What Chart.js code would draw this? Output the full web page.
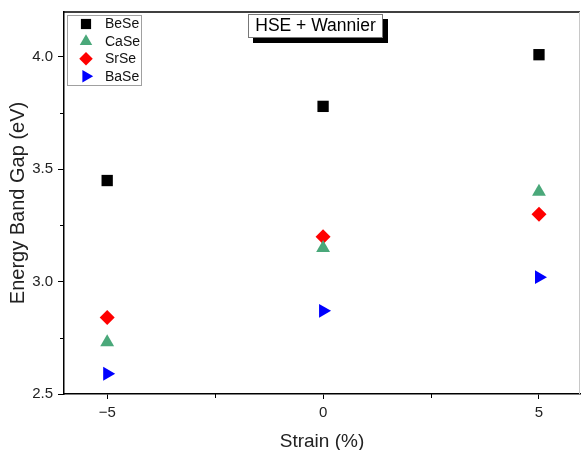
<!DOCTYPE html>
<html>
<head>
<meta charset="utf-8">
<script src="https://cdn.jsdelivr.net/npm/chart.js@4"></script>
<style>
  body { margin: 0; background: #fff; }
  canvas { display: block; }
</style>
</head>
<body>
<canvas id="chart" width="581" height="450"></canvas>
<script>
// data
const strain = [-5, 0, 5];
const beSe = [3.45, 3.78, 4.01];
const caSe = [2.73, 3.15, 3.40];
const srSe = [2.84, 3.20, 3.30];
const baSe = [2.59, 2.87, 3.02];
const xTicks = [-5, 0, 5];
const xMinor = [-2.5, 2.5];
const yTicks = [2.5, 3.0, 3.5, 4.0];
const yMinor = [2.75, 3.25, 3.75];

const FONT = '"Liberation Sans", Arial, sans-serif';

const series = [
  { label: 'BeSe', data: beSe, color: '#000000', style: 'rect', radius: 8, rotation: 0 },
  { label: 'CaSe', data: caSe, color: '#4aa87a', style: 'triangle', radius: 8, rotation: 0 },
  { label: 'SrSe', data: srSe, color: '#ff0000', style: 'rectRot', radius: 7.5, rotation: 0 },
  { label: 'BaSe', data: baSe, color: '#0000ff', style: 'triangle', radius: 8, rotation: 90 }
];

// small marker drawer for the legend box
function marker(ctx, style, x, y, r, rot, color) {
  ctx.save();
  ctx.fillStyle = color;
  ctx.translate(x, y);
  ctx.rotate(rot * Math.PI / 180);
  ctx.beginPath();
  if (style === 'rect') {
    const s = r * Math.SQRT1_2;
    ctx.rect(-s, -s, 2 * s, 2 * s);
  } else if (style === 'rectRot') {
    ctx.moveTo(0, -r); ctx.lineTo(r, 0); ctx.lineTo(0, r); ctx.lineTo(-r, 0);
  } else {
    ctx.moveTo(0, -r);
    ctx.lineTo(r * Math.sin(Math.PI / 3), r / 2);
    ctx.lineTo(-r * Math.sin(Math.PI / 3), r / 2);
  }
  ctx.closePath();
  ctx.fill();
  ctx.restore();
}

const extras = {
  id: 'extras',
  afterDraw(chart) {
    const ctx = chart.ctx;
    const a = chart.chartArea;
    const xs = chart.scales.x, ys = chart.scales.y;
    ctx.save();
    // frame top / right
    ctx.strokeStyle = '#000';
    ctx.lineWidth = 1.5;
    ctx.beginPath();
    ctx.moveTo(a.left, a.top); ctx.lineTo(a.right, a.top);
    ctx.stroke();
    ctx.strokeStyle = '#c8c8c8';
    ctx.lineWidth = 1;
    ctx.beginPath();
    ctx.moveTo(a.right - 0.5, a.top); ctx.lineTo(a.right - 0.5, a.bottom);
    ctx.stroke();
    // minor ticks
    ctx.strokeStyle = '#000';
    ctx.lineWidth = 1;
    xMinor.forEach(v => {
      const px = Math.round(xs.getPixelForValue(v)) + 0.5;
      ctx.beginPath(); ctx.moveTo(px, a.bottom); ctx.lineTo(px, a.bottom + 4); ctx.stroke();
    });
    yMinor.forEach(v => {
      const py = Math.round(ys.getPixelForValue(v)) + 0.5;
      ctx.beginPath(); ctx.moveTo(a.left, py); ctx.lineTo(a.left - 4, py); ctx.stroke();
    });

    // legend box
    ctx.strokeStyle = '#a0a0a0';
    ctx.fillStyle = '#fff';
    ctx.lineWidth = 1;
    ctx.fillRect(67, 15, 74, 70);
    ctx.strokeRect(67.5, 15.5, 74, 70);
    ctx.font = '14px ' + FONT;
    ctx.textBaseline = 'middle';
    ctx.textAlign = 'left';
    series.forEach((s, i) => {
      const y = 24 + i * 17.4;
      marker(ctx, s.style, 86, y, s.radius * 0.9, s.rotation, s.color);
      ctx.fillStyle = '#111';
      ctx.fillText(s.label, 105, y + 0.5);
    });

    // title box with drop shadow
    ctx.fillStyle = '#000';
    ctx.fillRect(253, 19, 135, 24);
    ctx.fillStyle = '#fff';
    ctx.fillRect(248, 14, 135, 24);
    ctx.strokeStyle = '#777';
    ctx.strokeRect(248.5, 14.5, 134, 23);
    ctx.fillStyle = '#000';
    ctx.font = '17.5px ' + FONT;
    ctx.textAlign = 'center';
    ctx.fillText('HSE + Wannier', 315.5, 26.5);
    ctx.restore();
  }
};

new Chart(document.getElementById('chart'), {
  type: 'scatter',
  data: {
    datasets: series.map(s => ({
      label: s.label,
      data: strain.map((x, i) => ({ x: x, y: s.data[i] })),
      pointStyle: s.style,
      pointRadius: s.radius,
      pointHoverRadius: s.radius,
      pointRotation: s.rotation,
      backgroundColor: s.color,
      borderColor: s.color,
      borderWidth: 0
    }))
  },
  options: {
    responsive: false,
    animation: false,
    layout: { autoPadding: false, padding: { left: 0, top: 12, right: 1, bottom: 0 } },
    plugins: { legend: { display: false }, tooltip: { enabled: false } },
    scales: {
      x: {
        type: 'linear',
        min: -6, max: 5.95,
        afterBuildTicks: sc => { sc.ticks = xTicks.map(v => ({ value: v })); },
        afterFit: sc => { sc.height = 56; sc.paddingLeft = 0; sc.paddingRight = 0; },
        ticks: {
          font: { family: FONT, size: 15 },
          color: '#222',
          padding: 5,
          callback: v => (v < 0 ? '\u2212' + Math.abs(v) : String(v))
        },
        grid: { drawOnChartArea: false, drawTicks: true, tickLength: 5, color: '#000', tickColor: '#000' },
        border: { color: '#000', width: 1.5 },
        title: { display: true, text: 'Strain (%)', font: { family: FONT, size: 19 }, color: '#222', padding: { top: 0, bottom: -3 } }
      },
      y: {
        type: 'linear',
        min: 2.5, max: 4.2,
        afterBuildTicks: sc => { sc.ticks = yTicks.map(v => ({ value: v })); },
        afterFit: sc => { sc.width = 64; sc.paddingTop = 0; sc.paddingBottom = 0; },
        ticks: {
          font: { family: FONT, size: 15 },
          color: '#222',
          padding: 5,
          callback: v => v.toFixed(1)
        },
        grid: { drawOnChartArea: false, drawTicks: true, tickLength: 6, color: '#000', tickColor: '#000' },
        border: { color: '#000', width: 1.5 },
        title: { display: true, text: 'Energy Band Gap (eV)', font: { family: FONT, size: 20 }, color: '#222', padding: { top: 6, bottom: 0 } }
      }
    }
  },
  plugins: [extras]
});
</script>
</body>
</html>
